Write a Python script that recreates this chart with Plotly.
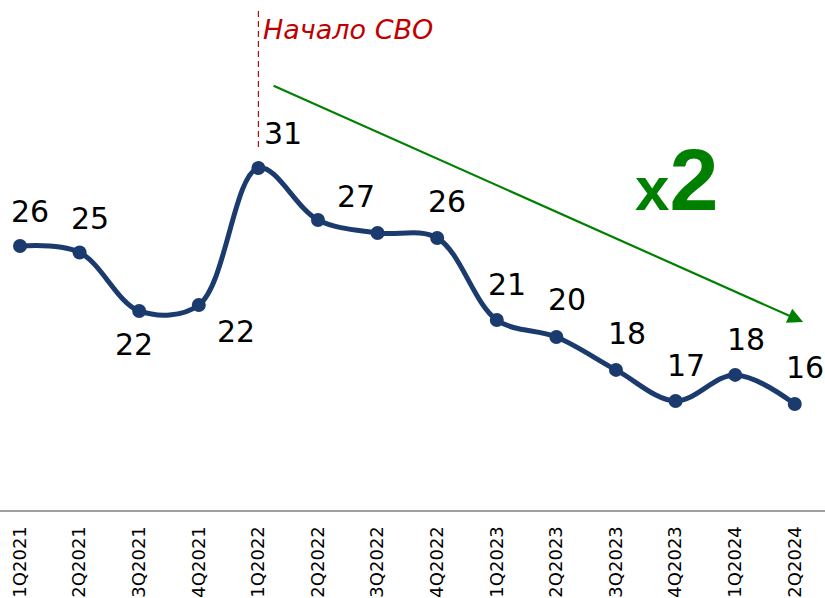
import plotly.graph_objects as go

quarters = ["1Q2021", "2Q2021", "3Q2021", "4Q2021", "1Q2022", "2Q2022", "3Q2022",
            "4Q2022", "1Q2023", "2Q2023", "3Q2023", "4Q2023", "1Q2024", "2Q2024"]
values = [25.87, 25.48, 21.98, 22.34, 30.54, 27.43, 26.65,
          26.35, 21.44, 20.42, 18.45, 16.59, 18.15, 16.41]
value_labels = ["26", "25", "22", "22", "31", "", "27",
                "26", "21", "20", "18", "17", "18", "16"]

# label placement (pixel offsets: dx, dy-up)
label_offsets = [(10, 34), (10, 34), (-5, -34), (37, -27), (25, 35), (0, 35), (-22, 36),
                 (10, 36), (10, 35), (11, 37), (11, 36), (10, 35), (11, 35), (10, 36)]

event_text = "Начало СВО"
event_idx = 4
trend_text = "<span style='font-size:62px'>x</span>2"

NAVY = "#1B3B6F"
GREEN = "#008000"
DARKRED = "#C00000"

fig = go.Figure()
fig.add_trace(go.Scatter(
    x=list(range(len(quarters))), y=values,
    mode="lines+markers",
    line=dict(color=NAVY, width=5, shape="spline", smoothing=1.0),
    marker=dict(color=NAVY, size=14),
    hoverinfo="skip", showlegend=False,
))

annotations = []
for i, (v, t) in enumerate(zip(values, value_labels)):
    if not t:
        continue
    dx, dy = label_offsets[i]
    annotations.append(dict(
        x=i, y=v, xref="x", yref="y", text=t, showarrow=False,
        xshift=dx, yshift=dy, xanchor="center", yanchor="middle",
        font=dict(family="DejaVu Sans", size=30, color="black"),
    ))

# event label
annotations.append(dict(
    x=event_idx, y=0.943, xref="x", yref="paper", text=event_text, showarrow=False,
    xanchor="left", yanchor="middle", xshift=3,
    font=dict(family="DejaVu Sans", size=27, color=DARKRED, style="italic"),
))

# trend arrow
annotations.append(dict(
    x=13.14, y=21.32, xref="x", yref="y",
    ax=4.23, ay=35.51, axref="x", ayref="y",
    text="", showarrow=True, arrowhead=2, arrowsize=1.4, arrowwidth=2.2,
    arrowcolor=GREEN,
))

# x2 label
annotations.append(dict(
    x=11.02, y=0.648, xref="x", yref="paper", text=trend_text, showarrow=False,
    xanchor="center", yanchor="middle",
    font=dict(family="Liberation Sans", size=88, color=GREEN, weight="bold"),
))

fig.update_layout(
    width=825, height=598,
    margin=dict(l=0, r=0, t=0, b=88, autoexpand=False),
    paper_bgcolor="white", plot_bgcolor="white",
    annotations=annotations,
    shapes=[dict(
        type="line", xref="x", yref="paper",
        x0=event_idx, x1=event_idx, y0=0.712, y1=0.982,
        line=dict(color="#B01010", width=1.2, dash="6px,4px"),
    )],
)
fig.update_xaxes(
    range=[-0.3356, 13.507], automargin=False,
    tickmode="array", tickvals=list(range(len(quarters))), ticktext=quarters,
    tickangle=-90, tickfont=dict(family="DejaVu Sans", size=18, color="black"),
    showline=True, linecolor="#A0A0A0", linewidth=2,
    showgrid=False, zeroline=False, ticks="", ticklabelstandoff=7,
)
fig.update_yaxes(range=[10.06, 40.60], visible=False, showgrid=False, automargin=False)

fig.write_html(
    "out.html",
    config={"displayModeBar": False},
    post_script="document.body.style.margin='0';document.body.style.overflow='hidden';",
)
